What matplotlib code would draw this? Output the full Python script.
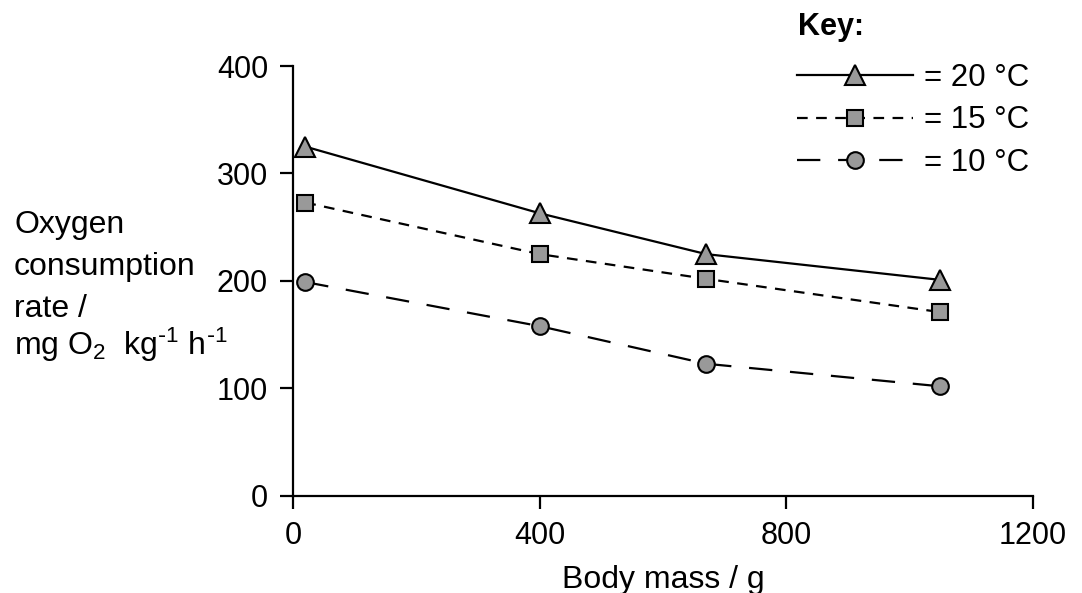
import matplotlib.pyplot as plt

plt.rcParams['font.family'] = ['Liberation Sans', 'DejaVu Sans']
plt.rcParams['mathtext.default'] = 'regular'

# body mass (g) and oxygen consumption rate (mg O2 kg-1 h-1)
body_mass = [20, 400, 670, 1050]
rate_20 = [325, 263, 225, 201]
rate_15 = [273, 225, 202, 171]
rate_10 = [199, 158, 123, 102]
labels = ['= 20 °C', '= 15 °C', '= 10 °C']
ylabel_lines = ['Oxygen', 'consumption', 'rate /',
                r'mg O$_2$  kg$^{\text{-}1}$ h$^{\text{-}1}$']

fig = plt.figure(figsize=(10.82, 5.93), dpi=100)
ax = fig.add_axes([0.2708, 0.1636, 0.6839, 0.7251])

grey = '#999999'
common = dict(color='black', lw=1.6, markerfacecolor=grey, markeredgecolor='black',
              markeredgewidth=1.5, clip_on=False)

l20, = ax.plot(body_mass, rate_20, marker='^', ms=15, ls='-', **common)
l15, = ax.plot(body_mass, rate_15, marker='s', ms=12, ls=(0, (4.8, 3.8)), **common)
l10, = ax.plot(body_mass, rate_10, marker='o', ms=12, ls=(0, (10.5, 8)), **common)

ax.set_xlim(0, 1200)
ax.set_ylim(0, 400)
ax.set_xticks([0, 400, 800, 1200])
ax.set_yticks([0, 100, 200, 300, 400])

for s in ['top', 'right']:
    ax.spines[s].set_visible(False)
for s in ['left', 'bottom']:
    ax.spines[s].set_linewidth(1.6)
ax.tick_params(direction='out', length=9.5, width=1.6, labelsize=22, pad=8.5)

ax.set_xlabel('Body mass / g', fontsize=23, labelpad=10)

# y label written line by line, left aligned
baselines = [233, 275, 317, 355]
for txt, yb in zip(ylabel_lines, baselines):
    fig.text(14 / 1082, 1 - yb / 593, txt, fontsize=23, ha='left', va='baseline')

# key
fig.text(798 / 1082, 1 - 35 / 593, 'Key:', fontsize=22, fontweight='bold',
         ha='left', va='baseline')
leg = fig.legend([l20, l15, l10], labels, loc='upper left',
                 bbox_to_anchor=(797 / 1082, 1 - 63 / 593), frameon=False, fontsize=22.5,
                 handlelength=3.7, handletextpad=0.35, labelspacing=0.4,
                 borderpad=0, borderaxespad=0)

fig.savefig('out.png', dpi=100)
